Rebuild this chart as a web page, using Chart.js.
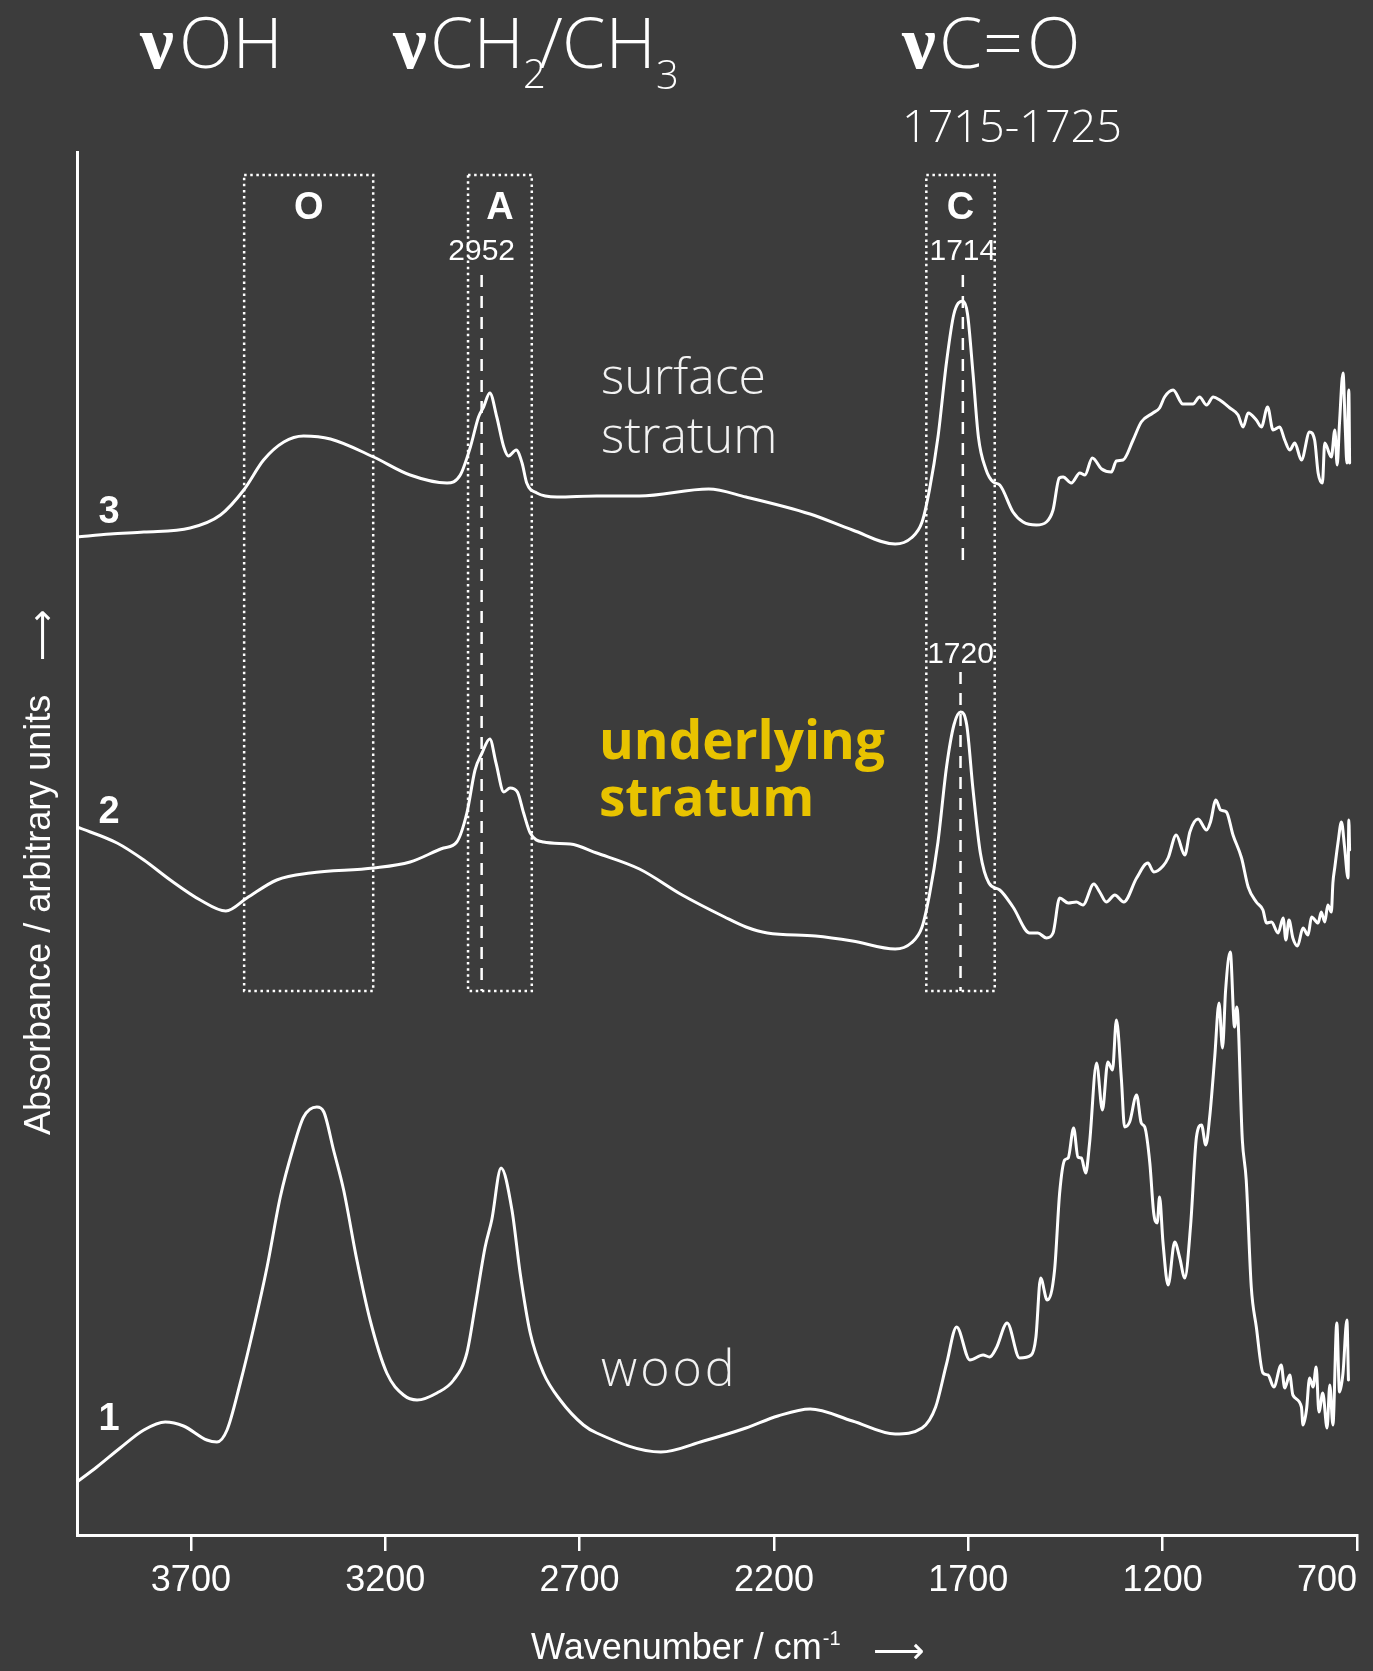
<!DOCTYPE html>
<html>
<head>
<meta charset="utf-8">
<title>FTIR spectra</title>
<script src="https://cdn.jsdelivr.net/npm/chart.js@4.4.1/dist/chart.umd.min.js"></script>
<style>
  html, body { margin: 0; padding: 0; background: #3c3c3c; }
  #wrap { width: 1373px; height: 1671px; }
  canvas { display: block; }
</style>
</head>
<body>
<div id="wrap"><canvas id="chart" width="1373" height="1671"></canvas></div>
<script>
// ---- spectra: wavenumber (cm-1) and absorbance (arbitrary, offset per trace) ----
const wnSurface = [3993,3907,3821,3702,3624,3564,3513,3461,3410,3341,3230,3136,3041,3007,2981,2960,2947,2931,2913,2895,2883,2863,2848,2836,2810,2758,2656,2546,2368,2272,2107,1998,1888,1847,1819,1800,1778,1756,1737,1714,1702,1688,1674,1655,1636,1619,1585,1559,1525,1499,1482,1466,1456,1435,1413,1400,1381,1357,1332,1319,1302,1276,1255,1225,1208,1195,1173,1148,1122,1105,1087,1070,1053,1027,1006,993,980,959,946,930,916,899,886,873,860,843,822,809,800,789,783,766,757,751,745,736,730,726,721,719];
const absSurface = [0.998,1.001,1.003,1.007,1.020,1.045,1.075,1.093,1.099,1.096,1.078,1.060,1.052,1.060,1.088,1.118,1.128,1.142,1.118,1.088,1.079,1.085,1.072,1.052,1.042,1.038,1.039,1.039,1.046,1.038,1.021,1.005,0.991,0.997,1.013,1.045,1.098,1.173,1.221,1.234,1.221,1.162,1.098,1.066,1.053,1.050,1.023,1.013,1.010,1.013,1.025,1.057,1.058,1.052,1.062,1.060,1.077,1.066,1.063,1.074,1.075,1.095,1.113,1.122,1.127,1.138,1.145,1.131,1.131,1.138,1.130,1.138,1.135,1.127,1.120,1.108,1.122,1.115,1.108,1.128,1.105,1.108,1.095,1.085,1.092,1.075,1.103,1.095,1.062,1.052,1.092,1.078,1.105,1.070,1.112,1.162,1.105,1.072,1.145,1.072];

const wnUnder = [3993,3890,3821,3753,3676,3610,3556,3479,3393,3230,3136,3050,3016,2990,2969,2951,2931,2915,2895,2879,2860,2844,2827,2793,2724,2656,2546,2436,2327,2272,2217,2093,1998,1888,1847,1819,1800,1778,1756,1737,1720,1704,1688,1669,1647,1619,1585,1542,1521,1499,1482,1465,1443,1422,1405,1377,1362,1345,1323,1300,1267,1238,1223,1199,1186,1165,1143,1130,1109,1087,1077,1063,1051,1036,1019,997,980,959,942,933,920,903,890,883,875,865,853,839,826,817,800,792,783,775,766,762,757,749,740,732,723,721,719];
const absUnder = [0.708,0.692,0.675,0.655,0.635,0.624,0.637,0.655,0.662,0.667,0.673,0.687,0.693,0.722,0.765,0.782,0.796,0.772,0.743,0.747,0.743,0.722,0.702,0.693,0.691,0.682,0.666,0.640,0.618,0.608,0.602,0.599,0.594,0.586,0.592,0.608,0.640,0.693,0.768,0.810,0.823,0.810,0.746,0.682,0.652,0.645,0.628,0.602,0.602,0.597,0.602,0.637,0.632,0.633,0.630,0.651,0.643,0.633,0.640,0.633,0.657,0.672,0.663,0.669,0.677,0.700,0.680,0.703,0.716,0.705,0.713,0.735,0.725,0.723,0.700,0.677,0.648,0.633,0.625,0.612,0.613,0.602,0.617,0.595,0.615,0.597,0.589,0.607,0.600,0.618,0.612,0.623,0.613,0.630,0.623,0.652,0.668,0.692,0.713,0.688,0.657,0.715,0.685];

const wnWood = [3993,3942,3882,3821,3766,3719,3659,3633,3607,3573,3538,3504,3470,3436,3410,3376,3358,3333,3307,3273,3239,3196,3153,3118,3067,3024,2990,2969,2943,2926,2902,2874,2853,2827,2793,2750,2690,2656,2491,2381,2272,2190,2107,1998,1888,1819,1784,1756,1730,1696,1662,1645,1628,1600,1568,1538,1526,1514,1497,1478,1465,1452,1443,1429,1418,1409,1398,1388,1370,1355,1341,1329,1319,1306,1298,1285,1267,1255,1246,1233,1223,1214,1208,1199,1186,1169,1156,1143,1128,1113,1100,1089,1079,1066,1055,1046,1038,1026,1015,1009,995,985,972,959,942,929,914,895,886,873,865,843,839,830,822,813,805,798,788,777,770,762,752,745,736,726,722];
const absWood = [0.053,0.068,0.087,0.105,0.113,0.109,0.095,0.093,0.105,0.152,0.208,0.268,0.338,0.388,0.418,0.428,0.423,0.385,0.345,0.275,0.215,0.162,0.140,0.135,0.142,0.155,0.182,0.228,0.288,0.315,0.367,0.325,0.262,0.202,0.162,0.135,0.110,0.102,0.083,0.094,0.107,0.119,0.126,0.114,0.101,0.107,0.128,0.171,0.208,0.175,0.180,0.178,0.187,0.212,0.177,0.180,0.198,0.257,0.235,0.265,0.342,0.375,0.377,0.407,0.378,0.377,0.362,0.392,0.472,0.425,0.473,0.465,0.515,0.455,0.408,0.413,0.440,0.412,0.408,0.372,0.322,0.312,0.338,0.292,0.250,0.293,0.277,0.257,0.310,0.398,0.410,0.390,0.418,0.478,0.532,0.487,0.545,0.583,0.508,0.528,0.395,0.355,0.248,0.208,0.162,0.160,0.148,0.170,0.147,0.160,0.140,0.128,0.110,0.125,0.157,0.148,0.168,0.123,0.142,0.107,0.150,0.110,0.212,0.143,0.162,0.215,0.155];

// ---- axis ticks ----
const xTickValues = [700, 1200, 1700, 2200, 2700, 3200, 3700];
const xTickLabels = ['700', '1200', '1700', '2200', '2700', '3200', '3700'];
const xMin = 700, xMax = 3993;
const yMin = 0, yMax = 1.383;

// ---- band regions (dotted boxes) ----
const regionNames = ['O', 'A', 'C'];
const regionFrom = [3563, 2987, 1808];
const regionTo = [3231, 2823, 1632];
const regionTop = 1.36, regionBottom = 0.544, regionLabelLevel = 1.316;

// ---- peak markers (dashed) ----
const peakWn = [2952, 1714, 1720];
const peakText = ['2952', '1714', '1720'];
const peakFrom = [1.26, 1.26, 0.863];
const peakTo = [0.544, 0.975, 0.544];
const peakLabelLevel = [1.275, 1.275, 0.872];

const WHITE = '#ffffff';
const YELLOW = '#e8c300';
const SANS = '"Liberation Sans", Arial, Helvetica, sans-serif';
const LIGHT = '"Open Sans", "Noto Sans", sans-serif';

function pts(xs, ys) { return xs.map((w, i) => ({ x: w, y: ys[i] })); }

function text(ctx, s, x, y, font, color, align, spacing) {
  ctx.font = font;
  ctx.fillStyle = color || WHITE;
  ctx.textAlign = align || 'left';
  ctx.textBaseline = 'alphabetic';
  if ('letterSpacing' in ctx) ctx.letterSpacing = spacing || '0px';
  ctx.fillText(s, x, y);
  if ('letterSpacing' in ctx) ctx.letterSpacing = '0px';
}

const annotations = {
  id: 'annotations',
  afterDatasetsDraw(chart) {
    const { ctx, scales: { x, y } } = chart;
    ctx.save();

    // dotted band boxes with their letters
    ctx.strokeStyle = WHITE;
    ctx.lineWidth = 2.5;
    ctx.setLineDash([2.5, 3.6]);
    regionNames.forEach((name, i) => {
      const x1 = x.getPixelForValue(regionFrom[i]);
      const x2 = x.getPixelForValue(regionTo[i]);
      const y1 = y.getPixelForValue(regionTop);
      const y2 = y.getPixelForValue(regionBottom);
      ctx.strokeRect(x1, y1, x2 - x1, y2 - y1);
      text(ctx, name, (x1 + x2) / 2, y.getPixelForValue(regionLabelLevel), 'bold 38px ' + SANS, WHITE, 'center');
    });

    // dashed peak markers
    ctx.setLineDash([12, 9]);
    ctx.lineWidth = 2.5;
    peakWn.forEach((w, i) => {
      const px = x.getPixelForValue(w);
      ctx.beginPath();
      ctx.moveTo(px, y.getPixelForValue(peakFrom[i]));
      ctx.lineTo(px, y.getPixelForValue(peakTo[i]));
      ctx.stroke();
      text(ctx, peakText[i], px, y.getPixelForValue(peakLabelLevel[i]), '30px ' + SANS, WHITE, 'center');
    });
    ctx.setLineDash([]);

    // band headings
    const NU = 'bold 76px "Liberation Serif", "DejaVu Serif", serif';
    const HEAD = '300 70px ' + LIGHT;
    const SUB = '300 40px ' + LIGHT;
    text(ctx, 'ν', 140, 68, NU);
    text(ctx, 'OH', 179, 68, HEAD);
    text(ctx, 'ν', 393, 68, NU);
    text(ctx, 'CH', 430, 68, HEAD);
    text(ctx, '2', 523, 88, SUB);
    text(ctx, '/', 539, 68, HEAD);
    text(ctx, 'CH', 562, 68, HEAD);
    text(ctx, '3', 656, 89, SUB);
    text(ctx, 'ν', 902, 68, NU);
    text(ctx, 'C', 939, 68, HEAD);
    text(ctx, '=', 983, 68, HEAD);
    text(ctx, 'O', 1027, 68, HEAD);
    text(ctx, '1715-1725', 902, 142, '300 45px ' + LIGHT);

    // trace numbers
    const NUM = 'bold 38px ' + SANS;
    text(ctx, '3', 109, 523, NUM, WHITE, 'center');
    text(ctx, '2', 109, 823, NUM, WHITE, 'center');
    text(ctx, '1', 109, 1430, NUM, WHITE, 'center');

    // trace names
    const NAME = '300 50px ' + LIGHT;
    text(ctx, 'surface', 601, 394, NAME, '#f2f2f2');
    text(ctx, 'stratum', 601, 453, NAME, '#f2f2f2');
    const BOLDNAME = 'bold 53px ' + LIGHT;
    text(ctx, 'underlying', 599, 759, BOLDNAME, YELLOW);
    text(ctx, 'stratum', 599, 816, BOLDNAME, YELLOW);
    text(ctx, 'wood', 601, 1386, NAME, '#f2f2f2', 'left', '3px');

    // axis titles
    const AX = '36px ' + SANS;
    const ARROW = '36px "DejaVu Sans", ' + SANS;
    ctx.font = AX;
    text(ctx, 'Wavenumber / cm', 531, 1659, AX);
    const w = ctx.measureText('Wavenumber / cm').width;
    text(ctx, '-1', 531 + w + 1, 1645, '20px ' + SANS);
    text(ctx, '⟶', 873, 1663, ARROW);

    ctx.save();
    ctx.translate(50, 1135);
    ctx.rotate(-Math.PI / 2);
    text(ctx, 'Absorbance / arbitrary units', 0, 0, AX);
    text(ctx, '⟶', 474, 4, ARROW);
    ctx.restore();

    ctx.restore();
  }
};

const lineStyle = {
  borderColor: WHITE,
  borderWidth: 3,
  pointRadius: 0,
  fill: false,
  cubicInterpolationMode: 'monotone',
  borderJoinStyle: 'round',
  borderCapStyle: 'round'
};

new Chart(document.getElementById('chart'), {
  type: 'line',
  data: {
    datasets: [
      Object.assign({ label: 'surface stratum', data: pts(wnSurface, absSurface) }, lineStyle),
      Object.assign({ label: 'underlying stratum', data: pts(wnUnder, absUnder) }, lineStyle),
      Object.assign({ label: 'wood', data: pts(wnWood, absWood) }, lineStyle)
    ]
  },
  options: {
    responsive: false,
    animation: false,
    devicePixelRatio: 1,
    layout: { padding: { top: 152, right: 16, bottom: 0, left: 0 } },
    plugins: { legend: { display: false }, tooltip: { enabled: false } },
    scales: {
      x: {
        type: 'linear',
        reverse: true,
        min: xMin,
        max: xMax,
        afterBuildTicks(scale) {
          scale.ticks = xTickValues.concat([xMax]).map(v => ({ value: v }));
        },
        ticks: {
          align: 'inner',
          autoSkip: false,
          maxRotation: 0,
          color: WHITE,
          padding: 8,
          font: { family: SANS, size: 36 },
          callback(value) {
            const i = xTickValues.indexOf(value);
            return i < 0 ? '' : xTickLabels[i];
          }
        },
        grid: {
          display: true,
          drawOnChartArea: false,
          drawTicks: true,
          tickLength: 16,
          lineWidth: 2.5,
          color: (c) => (c.tick && xTickValues.includes(c.tick.value)) ? WHITE : 'rgba(0,0,0,0)'
        },
        border: { display: true, color: WHITE, width: 3 },
        afterFit(scale) { scale.height = 136; scale.paddingLeft = 0; scale.paddingRight = 0; }
      },
      y: {
        type: 'linear',
        min: yMin,
        max: yMax,
        ticks: { display: false },
        grid: { display: false, drawTicks: false },
        border: { display: true, color: WHITE, width: 3 },
        afterFit(scale) { scale.width = 77; }
      }
    }
  },
  plugins: [annotations]
});
</script>
</body>
</html>
